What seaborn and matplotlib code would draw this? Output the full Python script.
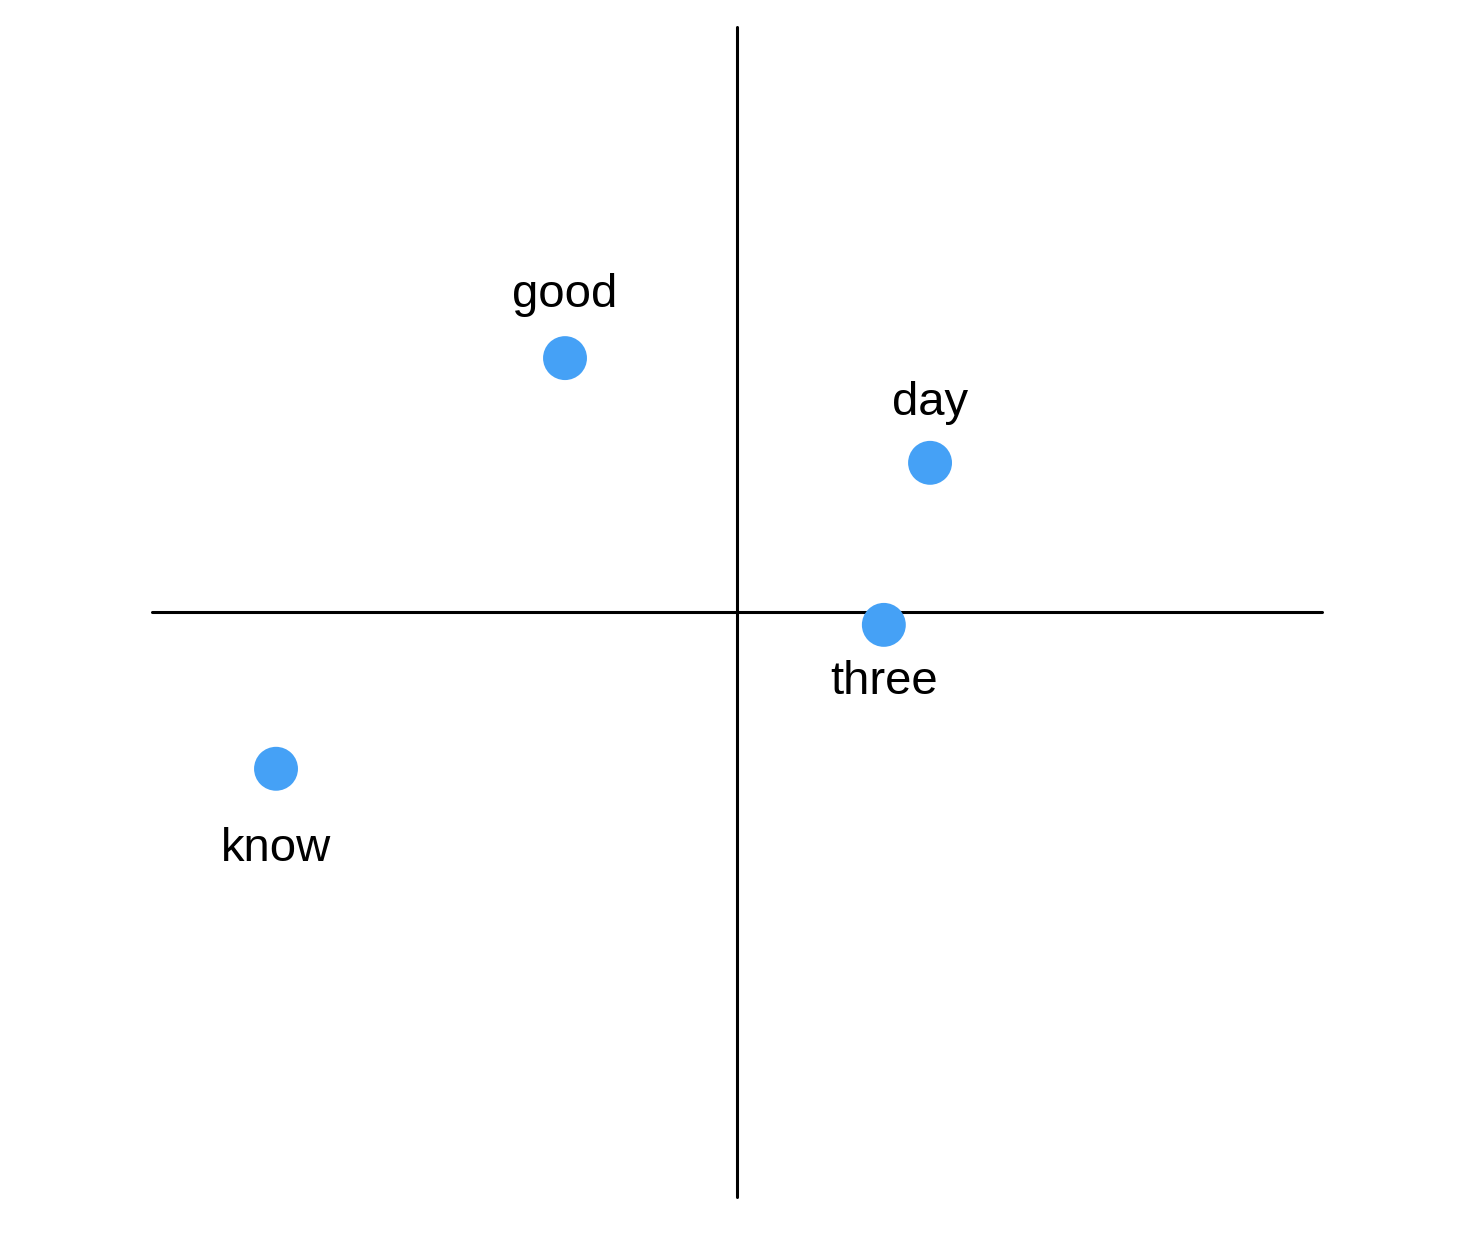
import matplotlib
matplotlib.use("Agg")
import matplotlib.pyplot as plt
import seaborn as sns
import pandas as pd

# word embedding coordinates (2D)
words = ["good", "day", "three", "know"]
xs = [-0.294, 0.330, 0.251, -0.788]
ys = [0.434, 0.255, -0.022, -0.268]

# label placement: pixel offset and vertical anchor
label_dy = [51, 48, -35, -58]
label_va = ["baseline", "baseline", "top", "top"]

df = pd.DataFrame({"word": words, "x": xs, "y": ys})

sns.set_style("white")
plt.rcParams["font.family"] = ["Liberation Sans", "DejaVu Sans"]

fig = plt.figure(figsize=(14.7, 12.38), dpi=100)
ax = fig.add_axes([0, 0, 1, 1])

# cross-shaped axes
ax.plot([-1, 1], [0, 0], color="black", lw=2.2, zorder=1)
ax.plot([0, 0], [-1, 1], color="black", lw=2.2, zorder=1)

sns.scatterplot(data=df, x="x", y="y", s=1000, color="#45A1F6",
                edgecolor="none", ax=ax, zorder=3)

for w, x, y, dy, va in zip(words, xs, ys, label_dy, label_va):
    ax.annotate(w, (x, y), xytext=(0, dy), textcoords="offset pixels",
                ha="center", va=va, fontsize=34, color="black")

ax.set_xlim(-737 / 585, (1470 - 737) / 585)
ax.set_ylim((612 - 1238) / 585, 612 / 585)
ax.set_axis_off()

fig.savefig("out.png", dpi=100)
